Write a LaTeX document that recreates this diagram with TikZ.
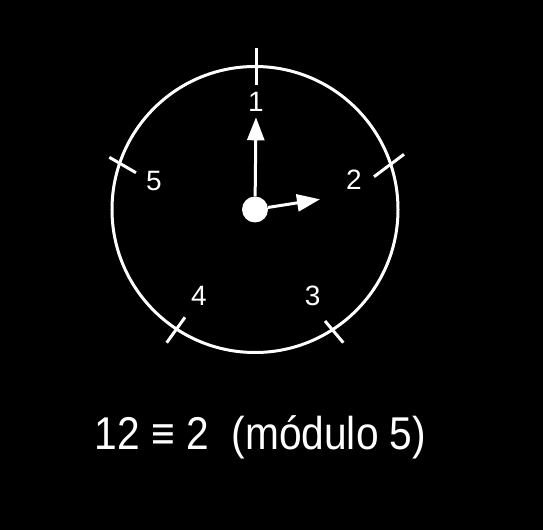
\documentclass[tikz,border=0pt]{standalone}
\usepackage{fontspec}
\setmainfont{Liberation Sans}
\usepackage{graphicx}
\usetikzlibrary{arrows.meta}
\tikzset{
  >={Triangle[length=23bp,width=17bp]},
}

\begin{document}
\begin{tikzpicture}[
  x=1bp,y=1bp,
  every node/.style={text=white,font=\fontsize{28bp}{32bp}\selectfont},
  hand/.style={->,draw=white,line width=3bp},
  tick/.style={draw=white,line width=3bp},
]

% Background
\fill[black] (-255,-320.5) rectangle (288,209.5);

% Dial and ticks
\draw[white,line width=3bp] (0,0) circle[radius=143];
\foreach \xa/\ya/\xb/\yb in {1/124.5/1/161.5, 119/32.8/149/55.2,
    -145.7/52.2/-119/36.8, -88.3/-133.2/-70/-107.8, 70/-111.5/88.3/-133.2}
  \draw[tick] (\xa,\ya) -- (\xb,\yb);

% Numbers
\node (n1) at (1,107.8) {1};
\node (n2) at (99,29.5) {2};
\node (n3) at (57.7,-86.5) {3};
\node (n4) at (-56,-86.5) {4};
\node (n5) at (-101,28.8) {5};

% Hands
\node[circle,fill=white,minimum size=26bp,inner sep=0pt] (c) at (0,0) {};
\coordinate (h1) at (1,92.2);
\coordinate (h2) at (65,10.2);
\path
(c) edge[hand] (h1)
(c) edge[hand] (h2);

% Caption
\node[anchor=base,font=\fontsize{46bp}{50bp}\selectfont] (eq) at (5.5,-239.8)
  {\scalebox{0.885}[1]{12 ≡ 2\ \ (módulo 5)}};

\end{tikzpicture}
\end{document}
